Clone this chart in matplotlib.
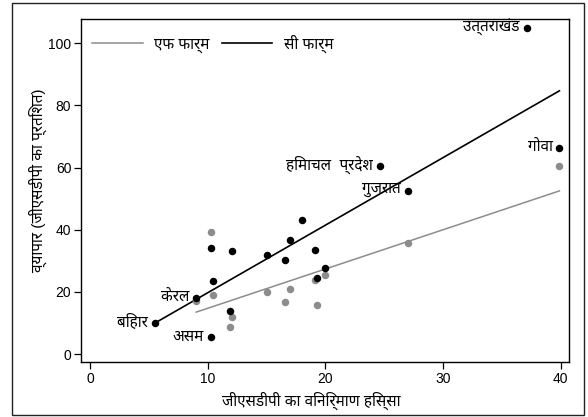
import matplotlib
matplotlib.use("Agg")
import matplotlib.pyplot as plt
from matplotlib import font_manager
from matplotlib.ft2font import FT2Font
from matplotlib.patches import Rectangle

# ---- find a font with Devanagari glyphs, if any ----
deva = []
for f in font_manager.fontManager.ttflist:
    try:
        cm = FT2Font(f.fname).get_charmap()
        if 0x0915 in cm and f.name not in deva:
            deva.append(f.name)
    except Exception:
        pass
pref = ['Noto Sans Devanagari', 'Lohit Devanagari', 'FreeSans', 'Mukta', 'Gargi']
deva.sort(key=lambda n: pref.index(n) if n in pref else len(pref))
families = ['Liberation Sans'] + deva[:1] + ['DejaVu Sans']
plt.rcParams['font.family'] = families

# ---- data ----
c_x = [5.5, 9.0, 10.26, 10.29, 10.46, 12.05, 11.85, 15.03, 16.6, 17.0, 18.0,
       19.1, 19.25, 20.0, 24.6, 27.0, 37.1, 39.9]
c_y = [10.0, 18.0, 5.5, 34.1, 23.5, 33.2, 13.8, 32.0, 30.4, 36.8, 43.0,
       33.5, 24.4, 27.8, 60.6, 52.5, 105.0, 66.3]
f_x = [9.0, 10.29, 10.46, 12.05, 11.85, 15.03, 17.0, 16.6, 19.1, 19.25, 20.0, 27.0, 39.9]
f_y = [17.0, 39.4, 19.0, 11.9, 8.6, 20.1, 20.9, 16.8, 23.8, 15.8, 25.4, 35.6, 60.5]

fit_c_x = [5.5, 39.9]
fit_c_y = [10.0, 84.7]
fit_f_x = [9.0, 39.9]
fit_f_y = [13.5, 52.5]

labels = ['बिहार', 'केरल', 'असम', 'हिमाचल  प्रदेश', 'गुजरात', 'उत्तराखंड', 'गोवा']
label_x = [5.5, 9.0, 10.26, 24.6, 27.0, 37.1, 39.9]
label_y = [10.0, 18.0, 5.5, 60.6, 52.5, 105.0, 66.3]

legend_labels = ['एफ फार्म', 'सी फार्म']
x_ticks = [0, 10, 20, 30, 40]
y_ticks = [0, 20, 40, 60, 80, 100]
x_label = 'जीएसडीपी का विनिर्माण हिस्सा'
y_label = 'व्यापार (जीएसडीपी का प्रतिशत)'

GRAY = '#8c8c8c'
DFS = 11  # Devanagari text size

fig = plt.figure(figsize=(5.88, 4.17), dpi=100)
ax = fig.add_axes([0.1378, 0.1307, 0.968 - 0.1378, 0.9537 - 0.1307])

ax.plot(f_x, f_y, 'o', color=GRAY, ms=5.4, mec='none', zorder=3)
ax.plot(c_x, c_y, 'o', color='black', ms=5.4, mec='none', zorder=4)
l1, = ax.plot(fit_f_x, fit_f_y, color=GRAY, lw=1.1, zorder=2)
l2, = ax.plot(fit_c_x, fit_c_y, color='black', lw=1.2, zorder=2)

for t, x, y in zip(labels, label_x, label_y):
    ax.annotate(t, (x, y), xytext=(-5, 0.5), textcoords='offset points',
                ha='right', va='center', fontsize=DFS)

ax.legend([l1, l2], legend_labels, ncol=2, frameon=False, loc='upper left',
          bbox_to_anchor=(-0.005, 0.995), handlelength=3.3, columnspacing=0.8,
          handletextpad=0.75, fontsize=DFS)

ax.set_xlim(-0.79, 40.73)
ax.set_ylim(-2.7, 107.7)
ax.set_xticks(x_ticks)
ax.set_yticks(y_ticks)
ax.tick_params(direction='out', length=5, width=0.9, labelsize=10, pad=2)
for s in ax.spines.values():
    s.set_linewidth(1.0)
ax.set_xlabel(x_label, fontsize=DFS, labelpad=7)
ax.xaxis.set_label_coords(0.471, -0.085)
ax.set_ylabel(y_label, fontsize=DFS)
ax.yaxis.set_label_coords(-0.07, 0.53)

fig.patches.append(Rectangle((12 / 588, 1 - 415 / 417), 572 / 588, 412 / 417,
                             transform=fig.transFigure, fill=False,
                             edgecolor='#222222', lw=1.0))

fig.savefig('out.png', dpi=100)
